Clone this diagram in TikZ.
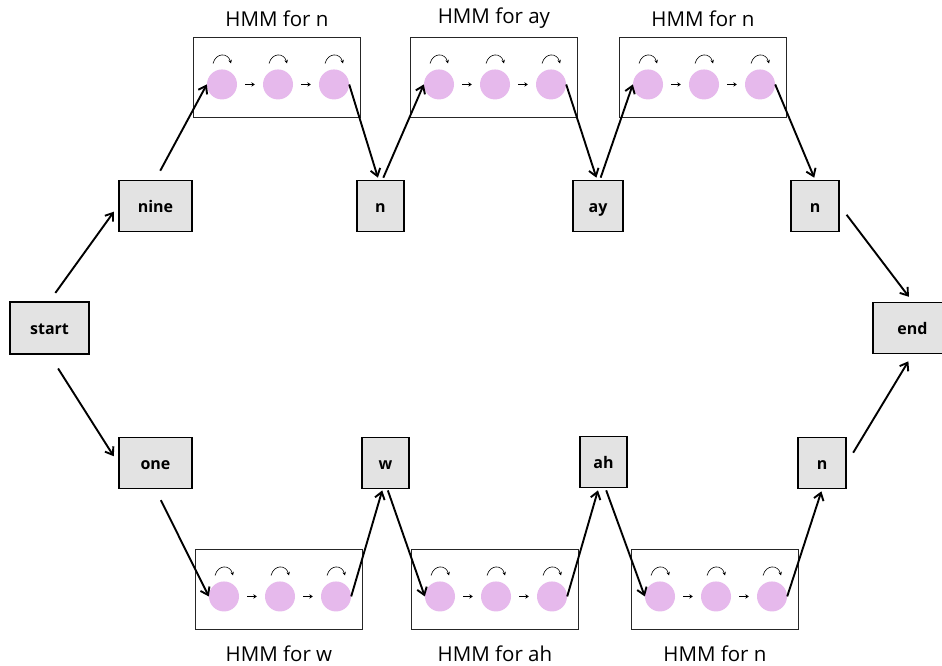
\documentclass[tikz,border=0pt]{standalone}
\usepackage{fontspec}
\setmainfont{Open Sans}
\usetikzlibrary{calc,arrows.meta}
\tikzset{
  word/.style={draw=black, line width=1.9pt, fill=boxgray, inner sep=0pt, minimum height=51pt, text height=12pt, text depth=0pt, font=\fontsize{16}{19}\selectfont\bfseries},
  hmmbox/.style={draw=black!85, line width=0.9pt, fill=white, inner sep=0pt, minimum width=167pt, minimum height=80pt},
  st/.style={circle, fill=statepink, draw=none, minimum size=30pt, inner sep=0pt},
  conn/.style={line width=1.9pt, -{Straight Barb[length=7pt,width=10pt,line width=1.9pt]}},
  selfloop/.style={line width=0.6pt, -{Stealth[length=3.5pt,width=3.5pt]}},
  step arrow/.style={line width=1.1pt, -{Stealth[length=3.5pt,width=4.5pt]}, shorten <=8pt, shorten >=8pt},
  lbl/.style={font=\fontsize{20.5}{24}\selectfont, inner sep=0pt}
}
\definecolor{boxgray}{HTML}{E3E3E3}
\definecolor{statepink}{HTML}{E6B9EC}
\newcommand\hmmblock[5]{%
  \node[hmmbox, anchor=north west] (#1) at (#2,#3) {};
  \node[st] (#1a) at ($(#1.west)+(29,7)$) {};
  \node[st] (#1b) at ($(#1.west)+(85,7)$) {};
  \node[st] (#1c) at ($(#1.west)+(141,7)$) {};
  \foreach \s in {a,b,c}{
    \draw[selfloop] ($(#1\s)+(-9,-21)$) .. controls ($(#1\s)+(-6,-32)$) and ($(#1\s)+(6,-32)$) .. ($(#1\s)+(9,-21)$);
  }
  \draw[step arrow] (#1a) -- (#1b);
  \draw[step arrow] (#1b) -- (#1c);
  \node[lbl] (#1l) at ($(#1.center)+(0,#5)$) {#4};
}
\begin{document}
\begin{tikzpicture}[x=1pt,y=-1pt]
\useasboundingbox (0,0) rectangle (942,666);
% word / phone boxes
\node[word, minimum width=79pt, minimum height=52pt] (start) at (49.5,328) {start};
\node[word, minimum width=73pt] (nine) at (155.5,206) {nine};
\node[word, minimum width=47pt] (n1) at (380.5,206) {n};
\node[word, minimum width=50pt] (ay) at (598,206) {ay};
\node[word, minimum width=48pt] (n2) at (815,206) {n};
\node[word, minimum width=79pt, minimum height=51pt] (end) at (912.5,328) {end};
\node[word, minimum width=73pt] (one) at (155.5,463) {one};
\node[word, minimum width=47pt] (w) at (385.5,463) {w};
\node[word, minimum width=47pt] (ah) at (603.5,462) {ah};
\node[word, minimum width=48pt] (n3) at (822,463) {n};
% HMM blocks
\hmmblock{ta}{193}{37}{HMM for n}{-59}
\hmmblock{tb}{410}{37}{HMM for ay}{-59}
\hmmblock{tc}{619}{37}{HMM for n}{-59}
\hmmblock{ba}{195}{549}{HMM for w}{64}
\hmmblock{bb}{411}{549}{HMM for ah}{64}
\hmmblock{bc}{631}{549}{HMM for n}{64}
% connectors, top path
\draw[conn, shorten <=10pt, shorten >=7pt] (start.north) -- (nine.west);
\draw[conn, shorten <=10pt, shorten >=0pt] (nine.north) -- (taa.west);
\draw[conn, shorten >=2pt] (tac.east) -- ([xshift=-2pt]n1.north);
\draw[conn, shorten <=2pt] ([xshift=2pt]n1.north) -- (tba.west);
\draw[conn, shorten >=2pt] (tbc.east) -- ([xshift=-1pt]ay.north);
\draw[conn, shorten <=2pt] ([xshift=2pt]ay.north) -- (tca.west);
\draw[conn, shorten >=2pt] (tcc.east) -- (n2.north);
\draw[conn, shorten <=11pt, shorten >=6pt] (n2.east) -- (end.north);
% connectors, bottom path
\draw[conn, shorten <=16pt, shorten >=8pt] (start.south) -- (one.west);
\draw[conn, shorten <=12pt, shorten >=0pt] (one.south) -- (baa.west);
\draw[conn, shorten >=1pt] (bac.east) -- ([xshift=-3pt]w.south);
\draw[conn, shorten <=1pt] ([xshift=2pt]w.south) -- (bba.west);
\draw[conn, shorten >=2pt] (bbc.east) -- ([xshift=-5pt]ah.south);
\draw[conn, shorten <=2pt] ([xshift=2pt]ah.south) -- (bca.west);
\draw[conn, shorten >=2pt] (bcc.east) -- (n3.south);
\draw[conn, shorten <=12pt, shorten >=8pt] (n3.east) -- (end.south);
\end{tikzpicture}
\end{document}
